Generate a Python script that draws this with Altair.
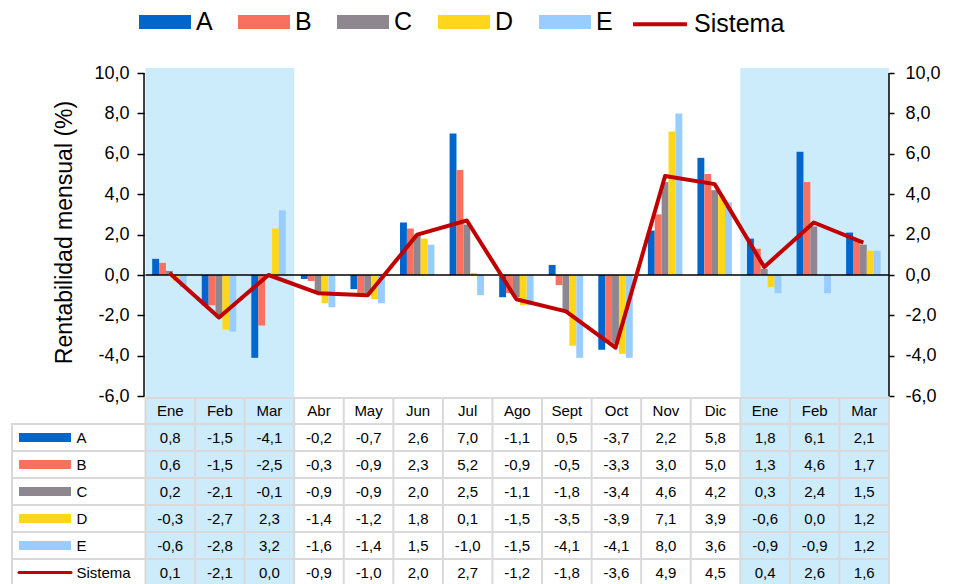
import altair as alt
import pandas as pd

# ---------------- data ----------------
months = ["Ene", "Feb", "Mar", "Abr", "May", "Jun", "Jul", "Ago", "Sept",
          "Oct", "Nov", "Dic", "Ene", "Feb", "Mar"]
series_names = ["A", "B", "C", "D", "E"]
serie_A = [0.8, -1.5, -4.1, -0.2, -0.7, 2.6, 7.0, -1.1, 0.5, -3.7, 2.2, 5.8, 1.8, 6.1, 2.1]
serie_B = [0.6, -1.5, -2.5, -0.3, -0.9, 2.3, 5.2, -0.9, -0.5, -3.3, 3.0, 5.0, 1.3, 4.6, 1.7]
serie_C = [0.2, -2.1, -0.1, -0.9, -0.9, 2.0, 2.5, -1.1, -1.8, -3.4, 4.6, 4.2, 0.3, 2.4, 1.5]
serie_D = [-0.3, -2.7, 2.3, -1.4, -1.2, 1.8, 0.1, -1.5, -3.5, -3.9, 7.1, 3.9, -0.6, 0.0, 1.2]
serie_E = [-0.6, -2.8, 3.2, -1.6, -1.4, 1.5, -1.0, -1.5, -4.1, -4.1, 8.0, 3.6, -0.9, -0.9, 1.2]
sistema = [0.1, -2.1, 0.0, -0.9, -1.0, 2.0, 2.7, -1.2, -1.8, -3.6, 4.9, 4.5, 0.4, 2.6, 1.6]
line_name = "Sistema"
shaded_months = [0, 1, 2, 12, 13, 14]
axis_ticks = [-6, -4, -2, 0, 2, 4, 6, 8, 10]

# ---------------- styles ----------------
colors = ["#0066CC", "#F9705E", "#8F878F", "#FFD619", "#99CCFF"]
line_color = "#C00000"
shade_color = "#CCEBFB"
grid_color = "#D9D9D9"
FONT = "Liberation Sans"
fmt = "replace(replace(format(datum.value, '.1f'), '.', ','), '\u2212', '-')"

# ---------------- layout (pixels) ----------------
W, H = 878, 517
PAD_L, PAD_T, PAD_R = 3, 65, 57
PLOT_LEFT_PX = 8 + PAD_L
TOP_PX = 8 + PAD_T
AXIS_PX = 145.5
RIGHT_PX = 889
COL = (RIGHT_PX - AXIS_PX) / 15
XMIN = -(AXIS_PX - PLOT_LEFT_PX) / COL
PXU = 20.2
YMIN = 10 - H / PXU


def yv(page_y):
    return 10 - (page_y - TOP_PX) / PXU


def xv(page_x):
    return (page_x - AXIS_PX) / COL


xs = alt.Scale(domain=[XMIN, 15], nice=False, zero=False)
ys = alt.Scale(domain=[YMIN, 10], nice=False, zero=False)

HEADER_TOP = 398
ROW0_TOP = 424
ROW_H = 27

# ---------------- tables ----------------
all_series = [serie_A, serie_B, serie_C, serie_D, serie_E]
bar_rows = []
for si, (name, vals) in enumerate(zip(series_names, all_series)):
    for mi, v in enumerate(vals):
        bar_rows.append({"series": name, "si": si, "mi": mi, "value": v})
bars_df = pd.DataFrame(bar_rows)

line_df = pd.DataFrame({"mi": range(len(sistema)), "value": sistema, "name": line_name})

row_labels = series_names + [line_name]
cell_rows = []
for r, vals in enumerate(all_series + [sistema]):
    for mi, v in enumerate(vals):
        cell_rows.append({"r": r, "mi": mi, "value": v})
cells_df = pd.DataFrame(cell_rows)
cells_df["xc"] = cells_df["mi"] + 0.5
cells_df["yc"] = cells_df["r"].apply(lambda r: yv(ROW0_TOP + ROW_H * r + ROW_H / 2))

header_df = pd.DataFrame({"mi": range(len(months)), "month": months})
header_df["xc"] = header_df["mi"] + 0.5
header_df["yc"] = yv((HEADER_TOP + ROW0_TOP) / 2)

labels_df = pd.DataFrame({"r": range(len(row_labels)), "label": row_labels})
labels_df["yc"] = labels_df["r"].apply(lambda r: yv(ROW0_TOP + ROW_H * r + ROW_H / 2))
labels_df["xl"] = xv(76.5)
labels_df["sx0"] = xv(19)
labels_df["sx1"] = xv(71)
labels_df["sy0"] = labels_df["r"].apply(lambda r: yv(ROW0_TOP + ROW_H * r + ROW_H / 2 - 4.5))
labels_df["sy1"] = labels_df["r"].apply(lambda r: yv(ROW0_TOP + ROW_H * r + ROW_H / 2 + 4.5))
labels_df["color"] = colors + [line_color]

# contiguous shaded spans
spans = []
for m in shaded_months:
    if spans and spans[-1][1] == m:
        spans[-1][1] = m + 1
    else:
        spans.append([m, m + 1])
shade_df = pd.DataFrame({"x0": [s[0] for s in spans], "x1": [s[1] for s in spans]})
shade_df["y0"] = 10.25
shade_df["y1"] = YMIN

hlines = [{"x0": 0, "x1": 15, "y": yv(HEADER_TOP)}]
for k in range(len(row_labels)):
    hlines.append({"x0": XMIN, "x1": 15, "y": yv(ROW0_TOP + ROW_H * k)})
hlines_df = pd.DataFrame(hlines)
vlines = [{"x": XMIN + 0.02, "y0": yv(ROW0_TOP), "y1": YMIN}]
for k in range(16):
    vlines.append({"x": k, "y0": yv(HEADER_TOP), "y1": YMIN})
vlines_df = pd.DataFrame(vlines)

axes_df = pd.DataFrame({"x": [-0.03, 15], "y0": [-6, -6], "y1": [10, 10]})
zero_df = pd.DataFrame({"x0": [0], "x1": [15], "y": [0]})

NOY = dict(scale=ys, axis=None)

# ---------------- layers ----------------
shade = alt.Chart(shade_df).mark_rect(color=shade_color).encode(
    x=alt.X("x0:Q", scale=xs, axis=None), x2="x1:Q",
    y=alt.Y("y0:Q", **NOY), y2="y1:Q")

hgrid = alt.Chart(hlines_df).mark_rule(color=grid_color, strokeWidth=2).encode(
    x=alt.X("x0:Q", scale=xs, axis=None), x2="x1:Q", y=alt.Y("y:Q", **NOY))

vgrid = alt.Chart(vlines_df).mark_rule(color=grid_color, strokeWidth=2).encode(
    x=alt.X("x:Q", scale=xs, axis=None), y=alt.Y("y0:Q", **NOY), y2="y1:Q")

header = alt.Chart(header_df).mark_text(font=FONT, fontSize=15, color="#000",
                                        baseline="middle", align="center").encode(
    x=alt.X("xc:Q", scale=xs, axis=None), y=alt.Y("yc:Q", **NOY), text="month:N")

cells = alt.Chart(cells_df).transform_calculate(label=fmt).mark_text(
    font=FONT, fontSize=15, color="#000", baseline="middle", align="center").encode(
    x=alt.X("xc:Q", scale=xs, axis=None), y=alt.Y("yc:Q", **NOY), text="label:N")

row_text = alt.Chart(labels_df).mark_text(font=FONT, fontSize=15, color="#000",
                                          baseline="middle", align="left").encode(
    x=alt.X("xl:Q", scale=xs, axis=None), y=alt.Y("yc:Q", **NOY), text="label:N")

swatches = alt.Chart(labels_df).transform_filter(
    alt.datum.label != line_name).mark_rect().encode(
    x=alt.X("sx0:Q", scale=xs, axis=None), x2="sx1:Q",
    y=alt.Y("sy0:Q", **NOY), y2="sy1:Q",
    color=alt.Color("color:N", scale=None))

line_swatch = alt.Chart(labels_df).transform_filter(
    alt.datum.label == line_name).mark_rule(strokeWidth=3, strokeCap="round",
                                            color=line_color).encode(
    x=alt.X("sx0:Q", scale=xs, axis=None), x2="sx1:Q", y=alt.Y("yc:Q", **NOY))

left_axis = alt.Axis(
    orient="left", offset=-(AXIS_PX - 1.5 - PLOT_LEFT_PX), values=axis_ticks,
    labelExpr=fmt, domain=False, grid=False, ticks=True, tickSize=7,
    tickColor="#000", tickWidth=1.5, labelFontSize=18, labelFont=FONT,
    labelColor="#000", labelPadding=8,
    title="Rentabilidad mensual (%)", titleFont=FONT, titleFontSize=23,
    titleFontWeight="normal", titleColor="#000", titleAngle=270,
    titleAlign="center", titleBaseline="middle",
    titleX=64 - (AXIS_PX - 1.5), titleY=232 - TOP_PX)

bar_legend = alt.Legend(
    orient="none", legendX=139 - PLOT_LEFT_PX, legendY=-77,
    direction="horizontal", title=None,
    symbolType="M-1,-0.27H1V0.27H-1Z", symbolSize=2704, symbolStrokeWidth=0,
    labelFontSize=25, labelFont=FONT, labelColor="#000", labelOffset=5,
    columnPadding=25, padding=0)

bars = alt.Chart(bars_df).transform_calculate(
    x0="datum.mi + 0.135 + 0.139 * datum.si",
    x1="datum.mi + 0.274 + 0.139 * datum.si").mark_rect().encode(
    x=alt.X("x0:Q", scale=xs, axis=None), x2="x1:Q",
    y=alt.Y("value:Q", scale=ys, axis=left_axis), y2=alt.datum(0),
    color=alt.Color("series:N", scale=alt.Scale(domain=series_names, range=colors),
                    legend=bar_legend))

zero = alt.Chart(zero_df).mark_rule(color="#000", strokeWidth=1.5).encode(
    x=alt.X("x0:Q", scale=xs, axis=None), x2="x1:Q", y=alt.Y("y:Q", **NOY))

right_axis = alt.Axis(
    orient="right", values=axis_ticks, labelExpr=fmt, domain=False, grid=False,
    ticks=True, tickSize=5, tickColor="#000", tickWidth=1.5, labelFontSize=18,
    labelFont=FONT, labelColor="#000", labelPadding=11, title=None)

axes = alt.Chart(axes_df).mark_rule(color="#000", strokeWidth=1.5).encode(
    x=alt.X("x:Q", scale=xs, axis=None),
    y=alt.Y("y0:Q", scale=ys, axis=right_axis), y2="y1:Q")

line_legend = alt.Legend(
    orient="none", legendX=631 - PLOT_LEFT_PX, legendY=-77.8, title=None,
    symbolType="stroke", symbolSize=2916, symbolStrokeWidth=4,
    labelFontSize=25, labelFont=FONT, labelColor="#000", labelOffset=5, padding=0)

line = alt.Chart(line_df).transform_calculate(xc="datum.mi + 0.4825").mark_line(
    strokeWidth=4, strokeJoin="round").encode(
    x=alt.X("xc:Q", scale=xs, axis=None), y=alt.Y("value:Q", **NOY),
    order="mi:Q",
    stroke=alt.Stroke("name:N", scale=alt.Scale(domain=[line_name], range=[line_color]),
                      legend=line_legend))

chart = alt.layer(
    shade, hgrid, vgrid, header, cells, row_text, swatches, line_swatch,
    bars, zero, axes, line
).resolve_scale(y="independent").properties(
    width=W, height=H,
    padding={"left": PAD_L, "top": PAD_T, "right": PAD_R, "bottom": 0},
    autosize=alt.AutoSizeParams(type="none"),
).configure(font=FONT).configure_view(stroke=None)

chart.save("out.html", embed_options={"renderer": "svg", "actions": False})
